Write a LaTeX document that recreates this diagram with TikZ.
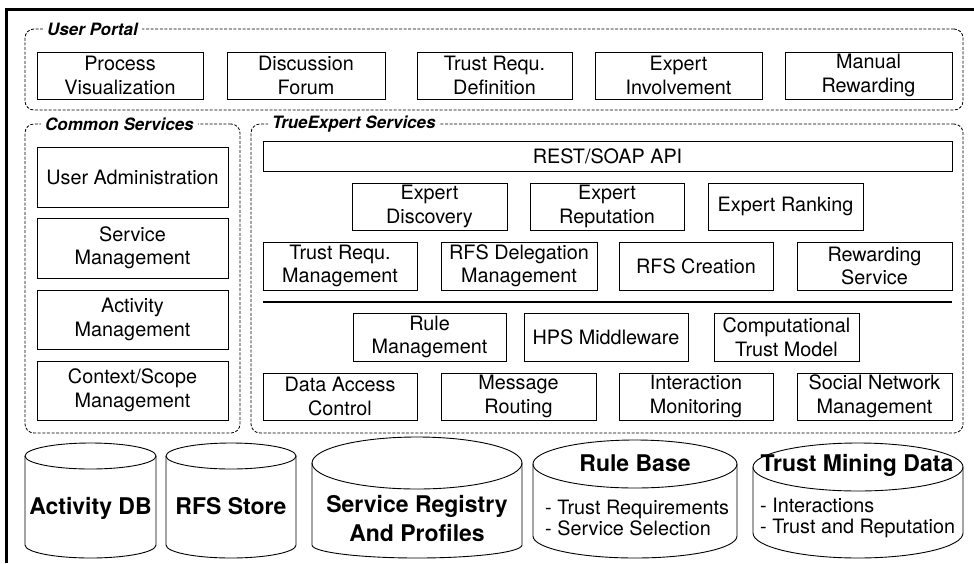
\documentclass[tikz,border=0pt]{standalone}
\usepackage{fontspec}
\setmainfont{TeX Gyre Heros}
\tikzset{
  box/.style={draw, line width=0.9pt, inner sep=0pt, align=center,
    font=\fontsize{19.8}{23.5}\selectfont},
  group/.style={draw, line width=0.8pt, dash pattern=on 3pt off 1.6pt,
    rounded corners=9pt, inner sep=0pt},
  grouplabel/.style={fill=white, inner xsep=4pt, inner ysep=1pt, anchor=west,
    font=\fontsize{17}{20}\selectfont\bfseries\itshape},
  cyl/.style={line width=0.9pt},
  dbtitle/.style={font=\fontsize{23}{29}\selectfont\bfseries, align=center, inner sep=0pt},
  dbitems/.style={font=\fontsize{19.8}{21.8}\selectfont, align=left, inner sep=0pt, anchor=west},
}
% \mkbox{name}{x1}{y1}{x2}{y2}{text}  (y measured downwards)
\newcommand\mkbox[6]{%
  \node[box, minimum width={(#4-#2)*1pt}, minimum height={(#5-#3)*1pt}]
    (#1) at ({(#2+#4)/2},{-(#3+#5)/2}) {#6};}
% \mkgroup{name}{x1}{y1}{x2}{y2}
\newcommand\mkgroup[5]{%
  \node[group, minimum width={(#4-#2)*1pt}, minimum height={(#5-#3)*1pt}]
    (#1) at ({(#2+#4)/2},{-(#3+#5)/2}) {};}
% \mkcyl{name}{x1}{x2}{top}{bottom}{top radius}{bottom radius}
\newcommand\mkcyl[7]{%
  \node[inner sep=0pt, minimum width={(#3-#2)*1pt}, minimum height={(#5-#4)*1pt}]
    (#1) at ({(#2+#3)/2},{-(#4+#5)/2}) {};
  \pgfmathsetmacro\cylrx{(#3-#2)/2}%
  \pgfmathsetmacro\cylyt{-(#4+#6)}%
  \pgfmathsetmacro\cylyb{-(#5-#7)}%
  \draw[cyl] (#2,\cylyt) -- (#2,\cylyb)
    arc[start angle=180, end angle=360, x radius=\cylrx pt, y radius=#7pt]
    -- (#3,\cylyt);
  \draw[cyl] (#1.center |- 0,\cylyt) ellipse[x radius=\cylrx pt, y radius=#6pt];}
\begin{document}
\begin{tikzpicture}[x=1pt,y=1pt]
\useasboundingbox (0,0) rectangle (974,-563);
% page frame (top and left edges)
\draw[line width=2.5pt, line join=miter] (6.5,-563) -- (6.5,-9.5) -- (974,-9.5);

% ---- User Portal ----
\mkgroup{portal}{25}{29}{963}{110}
\node[grouplabel] (portallbl) at (43,-29) {User Portal};
\mkbox{pv}{37}{52}{203}{99}{Process\\Visualization}
\mkbox{df}{227}{52}{385}{99}{Discussion\\Forum}
\mkbox{trd}{417}{52}{572}{99}{Trust Requ.\\Definition}
\mkbox{ei}{595}{52}{762}{99}{Expert\\Involvement}
\mkbox{mr}{785}{52}{952}{99}{Manual\\Rewarding}

% ---- Common Services ----
\mkgroup{common}{25}{124}{240}{433}
\node[grouplabel] (commonlbl) at (41,-124) {Common Services};
\mkbox{ua}{37}{147}{228}{207}{User Administration}
\mkbox{sm}{37}{218}{228}{278}{Service\\Management}
\mkbox{am}{37}{290}{228}{349}{Activity\\Management}
\mkbox{csm}{37}{361}{228}{420}{Context/Scope\\Management}

% ---- TrueExpert Services ----
\mkgroup{trueexpert}{251}{124}{963}{433}
\node[grouplabel] (trueexpertlbl) at (268,-124) {TrueExpert Services};
\mkbox{api}{263}{141}{952}{171}{REST/SOAP API}
\mkbox{ed}{352}{183}{507}{230}{Expert\\Discovery}
\mkbox{er}{530}{183}{684}{230}{Expert\\Reputation}
\mkbox{erk}{708}{183}{863}{230}{Expert Ranking}
\mkbox{trm}{263}{242}{417}{290}{Trust Requ.\\Management}
\mkbox{rfsd}{441}{242}{597}{290}{RFS Delegation\\Management}
\mkbox{rfsc}{619}{242}{773}{290}{RFS Creation}
\mkbox{rws}{797}{242}{952}{290}{Rewarding\\Service}
\coordinate (sepL) at (263,-302);
\coordinate (sepR) at (952,-302);
\draw[line width=1.8pt] (sepL) -- (sepR);
\mkbox{rm}{353}{313}{506}{361}{Rule\\Management}
\mkbox{hps}{524}{313}{688}{361}{HPS Middleware}
\mkbox{ctm}{714}{313}{859}{361}{Computational\\Trust Model}
\mkbox{dac}{263}{373}{417}{420}{Data Access\\Control}
\mkbox{mro}{441}{373}{596}{420}{Message\\Routing}
\mkbox{imo}{619}{373}{773}{420}{Interaction\\Monitoring}
\mkbox{snm}{797}{373}{952}{420}{Social Network\\Management}

% ---- data stores ----
\mkcyl{adb}{25}{156}{443}{558}{13}{13}
\node[dbtitle, anchor=base] (adbt) at (90.5,-514) {Activity DB};
\mkcyl{rfs}{166}{296}{443}{558}{13}{13}
\node[dbtitle, anchor=base] (rfst) at (231,-514) {RFS Store};
\mkcyl{srp}{312}{522}{437}{558}{26}{13}
\node[dbtitle] (srpt) at (417,-519) {Service Registry\\And Profiles};
\mkcyl{rb}{533}{737}{440}{558}{24}{22}
\node[dbtitle, anchor=base] (rbt) at (635,-471) {Rule Base};
\node[dbitems] (rbi) at (545,-518) {- Trust Requirements\\- Service Selection};
\mkcyl{tmd}{753}{963}{443}{558}{24}{25}
\node[dbtitle, anchor=base] (tmdt) at (857,-471) {Trust Mining Data};
\node[dbitems] (tmdi) at (760,-518) {- Interactions\\- Trust and Reputation};
\end{tikzpicture}
\end{document}
